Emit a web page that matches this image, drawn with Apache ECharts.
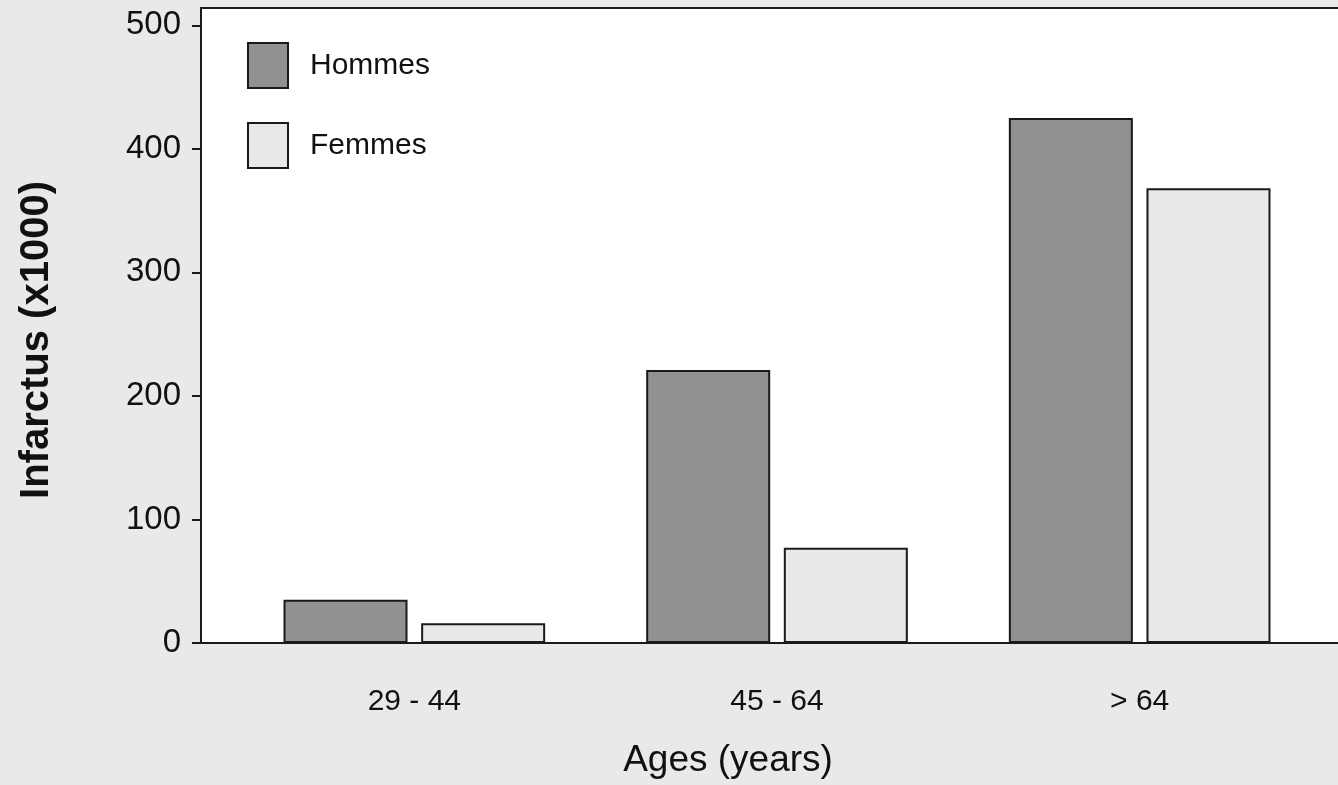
<!DOCTYPE html>
<html>
<head>
<meta charset="utf-8">
<script src="https://cdn.jsdelivr.net/npm/echarts@6/dist/echarts.min.js"></script>
<style>
html,body{margin:0;padding:0;background:#e9e9e9;}
#chart{width:1338px;height:785px;}
</style>
</head>
<body>
<div id="chart"></div>
<script>
const categories = ['29 - 44', '45 - 64', '> 64'];
const hommes = [35, 221, 425];
const femmes = [16, 77, 368];
const yTicks = [0, 100, 200, 300, 400, 500];
const seriesNames = ['Hommes', 'Femmes'];

const FONT = "'Liberation Sans', Arial, sans-serif";
const INK = '#1a1a1a';

const chart = echarts.init(document.getElementById('chart'));
chart.setOption({
  backgroundColor: '#e9e9e9',
  animation: false,
  textStyle: { fontFamily: FONT },
  title: {
    text: 'Ages (years)',
    left: 728, top: 761,
    textAlign: 'center', textVerticalAlign: 'middle',
    padding: 0,
    textStyle: { fontFamily: FONT, fontSize: 37, fontWeight: 'normal', color: '#111' }
  },
  graphic: [{
    type: 'text',
    x: 37, y: 340,
    rotation: Math.PI / 2,
    style: {
      text: 'Infarctus (x1000)',
      align: 'center', verticalAlign: 'middle',
      font: "bold 40px 'Liberation Sans', Arial, sans-serif",
      fill: '#111'
    }
  }],
  legend: {
    orient: 'vertical',
    left: 247, top: 42,
    itemWidth: 40, itemHeight: 45,
    itemGap: 33,
    icon: 'rect',
    padding: 0,
    data: seriesNames,
    textStyle: { fontFamily: FONT, fontSize: 30, color: '#111', padding: [6, 0, 0, 17] }
  },
  grid: [
    { left: 201, top: 8, width: 1220, bottom: 142, outerBoundsMode: 'none', containLabel: false,
      show: true, backgroundColor: '#ffffff', borderColor: INK, borderWidth: 2 },
    { left: 233, top: 8, right: 17, bottom: 142, outerBoundsMode: 'none' }
  ],
  xAxis: [
    { type: 'value', gridIndex: 0, min: 0, max: 1, show: false },
    {
      type: 'category', gridIndex: 1, data: categories,
      axisLine: { show: false }, axisTick: { show: false },
      axisLabel: { margin: 44, fontSize: 30, color: '#111', fontFamily: FONT }
    }
  ],
  yAxis: [
    {
      type: 'value', gridIndex: 0, min: 0, max: 514,
      splitLine: { show: false },
      axisLine: { show: false },
      axisTick: { show: true, length: 9, customValues: yTicks, lineStyle: { color: INK, width: 2 } },
      axisLabel: { margin: 20, fontSize: 33, color: '#111', fontFamily: FONT, customValues: yTicks }
    },
    { type: 'value', gridIndex: 1, min: 0, max: 514, show: false, splitLine: { show: false } }
  ],
  series: [
    {
      name: seriesNames[0], type: 'bar', xAxisIndex: 1, yAxisIndex: 1,
      data: hommes, barWidth: 124, barGap: '11%',
      itemStyle: { color: '#919191', borderColor: INK, borderWidth: 2 }
    },
    {
      name: seriesNames[1], type: 'bar', xAxisIndex: 1, yAxisIndex: 1,
      data: femmes, barWidth: 124, barGap: '11%',
      itemStyle: { color: '#e8e8e8', borderColor: INK, borderWidth: 2 }
    }
  ]
});
</script>
</body>
</html>
